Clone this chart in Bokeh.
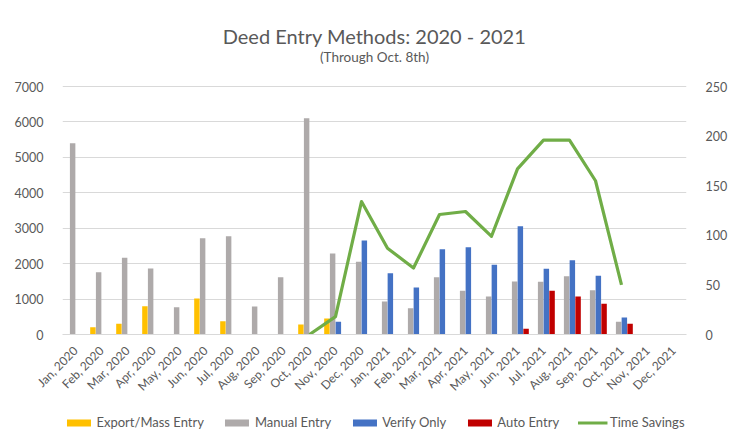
import math
from bokeh.plotting import figure
from bokeh.layouts import column
from bokeh.models import (FactorRange, Range1d, LinearAxis, Legend, LegendItem,
                          Title, FixedTicker, ColumnDataSource)
from bokeh.transform import dodge
from bokeh.embed import file_html
from bokeh.resources import INLINE

months = ["Jan, 2020", "Feb, 2020", "Mar, 2020", "Apr, 2020", "May, 2020", "Jun, 2020",
          "Jul, 2020", "Aug, 2020", "Sep, 2020", "Oct, 2020", "Nov, 2020", "Dec, 2020",
          "Jan, 2021", "Feb, 2021", "Mar, 2021", "Apr, 2021", "May, 2021", "Jun, 2021",
          "Jul, 2021", "Aug, 2021", "Sep, 2021", "Oct, 2021", "Nov, 2021", "Dec, 2021"]

export_mass = [0, 207, 301, 800, 0, 1016, 376, 0, 0, 282, 452, 0,
               0, 0, 0, 0, 0, 0, 0, 0, 0, 0, 0, 0]
manual = [5400, 1760, 2165, 1863, 771, 2720, 2776, 790, 1618, 6107, 2287, 2052,
          932, 743, 1618, 1233, 1073, 1496, 1490, 1646, 1251, 358, 0, 0]
verify = [0, 0, 0, 0, 0, 0, 0, 0, 0, 0, 358, 2654,
          1731, 1327, 2409, 2465, 1967, 3058, 1854, 2098, 1656, 480, 0, 0]
auto = [0, 0, 0, 0, 0, 0, 0, 0, 0, 0, 0, 0,
        0, 0, 0, 0, 0, 160, 1233, 1073, 866, 301, 0, 0]

ts_months = months[9:22]
time_savings = [0, 18, 134, 87, 67, 121, 124, 99, 167, 196, 196, 155, 50]

left_ticks = [0, 1000, 2000, 3000, 4000, 5000, 6000, 7000]
right_ticks = [0, 50, 100, 150, 200, 250]

series_names = ["Export/Mass Entry", "Manual Entry", "Verify Only", "Auto Entry", "Time Savings"]
colors = ["#FFC000", "#AEAAAA", "#4472C4", "#C00000", "#70AD47"]

FONT = "Lato"
TXT = "#595959"

# layout: the top gridline (7000 / 250) sits 248 px above the baseline; the frame
# extends a little higher (270 px) to leave the blank band under the subtitle
GRID_PX = 248.0
FRAME_PX = 270.0
left_top = 7000 * FRAME_PX / GRID_PX
right_top = 250 * FRAME_PX / GRID_PX

src = ColumnDataSource(dict(month=months, export_mass=export_mass, manual=manual,
                            verify=verify, auto=auto))
ts_src = ColumnDataSource(dict(month=ts_months, ts=time_savings))

p = figure(width=730, height=404,
           x_range=FactorRange(*months, range_padding=0),
           y_range=Range1d(0, left_top),
           output_backend="svg", toolbar_location=None,
           min_border_left=62, min_border_right=38, min_border_top=64,
           min_border_bottom=70)
p.title = None
p.outline_line_color = None
p.background_fill_color = "white"
p.border_fill_color = "white"

sub = Title(text="(Through Oct. 8th)", align="center", text_font=FONT,
            text_font_size="13.5px", text_font_style="normal", text_color=TXT,
            standoff=0)
main = Title(text="Deed Entry Methods: 2020 - 2021", align="center", text_font=FONT,
             text_font_size="20px", text_font_style="normal", text_color=TXT,
             standoff=-3)
p.add_layout(sub, "above")
p.add_layout(main, "above")

p.extra_y_ranges = {"ts": Range1d(0, right_top)}

w = 0.21
p.vbar(x=dodge("month", -0.33, range=p.x_range), top="export_mass", width=w,
       source=src, fill_color=colors[0], line_color=None)
p.vbar(x=dodge("month", -0.11, range=p.x_range), top="manual", width=w,
       source=src, fill_color=colors[1], line_color=None)
p.vbar(x=dodge("month", 0.11, range=p.x_range), top="verify", width=w,
       source=src, fill_color=colors[2], line_color=None)
p.vbar(x=dodge("month", 0.33, range=p.x_range), top="auto", width=w,
       source=src, fill_color=colors[3], line_color=None)
p.line(x="month", y="ts", source=ts_src, y_range_name="ts",
       line_color=colors[4], line_width=3.2, line_join="round")

# axes
p.xaxis.major_label_orientation = math.pi / 4
p.xaxis.major_label_text_font = FONT
p.xaxis.major_label_text_font_size = "12px"
p.xaxis.major_label_text_color = TXT
p.xaxis.axis_line_color = "#D9D9D9"
p.xaxis.major_tick_line_color = None
p.xaxis.minor_tick_line_color = None
p.xaxis.major_label_standoff = 8

p.yaxis.ticker = FixedTicker(ticks=left_ticks)
p.yaxis.major_label_text_font = FONT
p.yaxis.major_label_text_font_size = "12.5px"
p.yaxis.major_label_text_color = TXT
p.yaxis.axis_line_color = None
p.yaxis.major_tick_line_color = None
p.yaxis.minor_tick_line_color = None
p.yaxis.major_label_standoff = 13

ax2 = LinearAxis(y_range_name="ts", ticker=FixedTicker(ticks=right_ticks))
ax2.major_label_text_font = FONT
ax2.major_label_text_font_size = "12.5px"
ax2.major_label_text_color = TXT
ax2.axis_line_color = None
ax2.major_tick_line_color = None
ax2.minor_tick_line_color = None
ax2.major_label_standoff = 13
p.add_layout(ax2, "right")

p.xgrid.grid_line_color = None
p.ygrid.grid_line_color = "#D9D9D9"
p.ygrid.grid_line_width = 1
p.ygrid.ticker = FixedTicker(ticks=left_ticks)

# legend strip: a small figure below the chart that reuses the chart's glyph styles
lg = figure(width=730, height=36, x_range=Range1d(0, 1), y_range=Range1d(0, 1),
            x_axis_type=None, y_axis_type=None, output_backend="svg",
            toolbar_location=None, min_border_left=28, min_border_right=0,
            min_border_top=0, min_border_bottom=0)
lg.outline_line_color = None
lg.background_fill_color = "white"
lg.border_fill_color = "white"
items = []
for i in range(4):
    # one point outside the visible range so that only the legend swatch shows
    r = lg.vbar(x=[-5], top=[-5], width=0.1, fill_color=colors[i], line_color=None)
    items.append(LegendItem(label=series_names[i], renderers=[r]))
rl = lg.line(x=[-5, -4], y=[-5, -5], line_color=colors[4], line_width=3.2)
items.append(LegendItem(label=series_names[4], renderers=[rl]))

legend = Legend(items=items, orientation="horizontal", location="center")
legend.label_text_font = FONT
legend.label_text_font_size = "13px"
legend.label_text_color = TXT
legend.glyph_width = 30
legend.glyph_height = 9
legend.label_height = 16
legend.label_standoff = 3
legend.spacing = 18
legend.border_line_color = None
legend.background_fill_alpha = 0
legend.padding = 2
legend.margin = 0
lg.add_layout(legend, "center")

layout = column(p, lg, spacing=0)
open("out.html", "w").write(file_html(layout, INLINE))
